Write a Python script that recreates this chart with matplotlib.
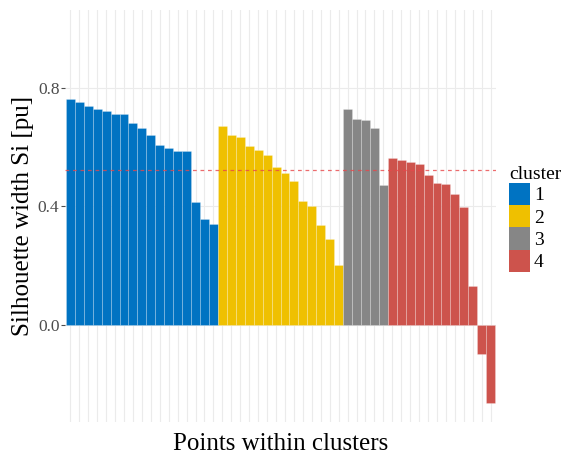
import numpy as np
import matplotlib.pyplot as plt
from matplotlib.patches import Patch

# silhouette widths per point, sorted within each cluster
sil_c1 = [0.762, 0.753, 0.737, 0.730, 0.722, 0.711, 0.711, 0.682, 0.663,
          0.642, 0.606, 0.597, 0.588, 0.588, 0.413, 0.356, 0.340]
sil_c2 = [0.672, 0.640, 0.633, 0.603, 0.589, 0.574, 0.534, 0.511, 0.485,
          0.416, 0.400, 0.338, 0.289, 0.201]
sil_c3 = [0.730, 0.694, 0.691, 0.663, 0.472]
sil_c4 = [0.564, 0.557, 0.549, 0.542, 0.506, 0.480, 0.476, 0.443, 0.397,
          0.131, -0.099, -0.266]
cluster_labels = ['1', '2', '3', '4']
cluster_colors = ['#0073C2', '#EFC000', '#868686', '#CD534C']

plt.rcParams['font.family'] = ['Liberation Serif', 'DejaVu Serif']

sils = [sil_c1, sil_c2, sil_c3, sil_c4]
vals = np.concatenate(sils)
cols = np.concatenate([[c] * len(s) for c, s in zip(cluster_colors, sils)])
x = np.arange(1, len(vals) + 1)

fig = plt.figure(figsize=(5.68, 4.54), dpi=100)
ax = fig.add_axes([65 / 568, 1 - 422 / 454, 431 / 568, 412 / 454])

# grid: vertical line at every point, horizontal at the y breaks
for xi in x:
    ax.axvline(xi, color='#ebebeb', lw=0.8, zorder=0)
for yt in (0.0, 0.4, 0.8):
    ax.axhline(yt, color='#ebebeb', lw=0.8, zorder=0)

ax.bar(x, vals, width=1.0, color=cols, edgecolor=(1, 1, 1, 0.25),
       linewidth=0.6, zorder=2)
# average silhouette width
ax.axhline(np.mean(vals), color='#e8474a', lw=0.9, ls=(0, (3, 3)),
           alpha=0.8, zorder=3)

ax.set_xlim(0.4, len(vals) + 0.6)
ax.set_ylim(-0.329, 1.063)
ax.set_yticks([0.0, 0.4, 0.8])
ax.set_yticklabels(['0.0', '0.4', '0.8'], fontsize=12.5, color='#4d4d4d')
ax.set_xticks([])
ax.tick_params(axis='y', length=3, width=0.8, color='#4d4d4d', pad=1)
for sp in ax.spines.values():
    sp.set_visible(False)

ax.set_ylabel('Silhouette width Si [pu]', fontsize=18, labelpad=3)
ax.set_xlabel('Points within clusters', fontsize=18, labelpad=8)

handles = [Patch(facecolor=c, edgecolor='none') for c in cluster_colors]
leg = fig.legend(handles, cluster_labels, title='cluster',
                 loc='upper left', bbox_to_anchor=(501 / 568, 1 - 158 / 454),
                 frameon=False, fontsize=14, title_fontsize=14,
                 handlelength=1.1, handleheight=1.39, handletextpad=0.2,
                 labelspacing=0.0, borderaxespad=0)
leg._legend_box.align = 'left'

fig.savefig('out.png', dpi=100)
